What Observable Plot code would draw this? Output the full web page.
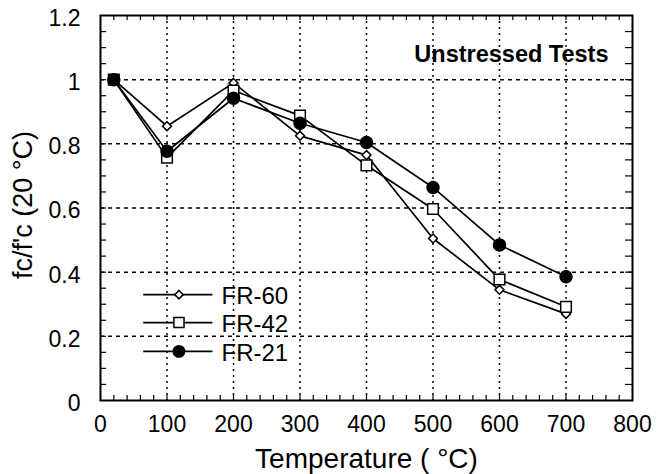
<!DOCTYPE html>
<html><head><meta charset="utf-8">
<script src="https://cdn.jsdelivr.net/npm/d3@7"></script>
<script src="https://cdn.jsdelivr.net/npm/@observablehq/plot@0.6"></script>
<style>body{margin:0;background:#fff} svg{display:block}</style>
</head><body><div id="chart"></div>
<script>
// ---- data ----
const temperatures = [20, 100, 200, 300, 400, 500, 600, 700];
const fr60 = [1.0, 0.855, 0.99, 0.825, 0.765, 0.505, 0.345, 0.27];
const fr42 = [1.0, 0.757, 0.966, 0.888, 0.733, 0.597, 0.377, 0.292];
const fr21 = [1.0, 0.777, 0.942, 0.864, 0.804, 0.664, 0.485, 0.386];
const seriesNames = ["FR-60", "FR-42", "FR-21"];
const xTicks = [0, 100, 200, 300, 400, 500, 600, 700, 800];
const yTicks = [0, 0.2, 0.4, 0.6, 0.8, 1.0, 1.2];
const yTickLabels = ["0", "0.2", "0.4", "0.6", "0.8", "1", "1.2"];
const xLabel = "Temperature ( °C)";
const yLabel = "fc/f'c (20 °C)";
const titleText = "Unstressed Tests";

// ---- layout / styles ----
const W = 657, H = 474;
const mL = 100, mR = 25, mT = 15, mB = 74;
const innerW = W - mL - mR, innerH = H - mT - mB;
const seriesValues = [fr60, fr42, fr21];
const seriesStyle = [
  {symbol: "diamond2", fill: "white", r: 4},
  {symbol: "square", fill: "white", r: 6},
  {symbol: "circle", fill: "black", r: 6}
];
const legendY = [0.33, 0.243, 0.153];
const legendLineX = [65, 169], legendMarkerX = 118, legendTextX = 182;

const rows = seriesNames.flatMap((s, i) => temperatures.map((t, j) => ({series: s, t, v: seriesValues[i][j]})));
const legendRows = seriesNames.map((s, i) => ({series: s, y: legendY[i]}));
const xMinor = d3.range(20, 800, 20);
const yMinor = d3.range(1, 24).map(k => k * 0.05);

const marks = [
  Plot.ruleX(xTicks.filter(d => d > 0 && d < 800), {x: d => d, stroke: "black", strokeWidth: 1.5, strokeDasharray: "2,4"}),
  Plot.ruleY(yTicks.filter(d => d > 0 && d < 1.2), {y: d => d, stroke: "black", strokeWidth: 1.5, strokeDasharray: "4,4"}),
  Plot.ruleX(xMinor, {x: d => d, insetTop: innerH - 5, stroke: "black", strokeWidth: 1.2}),
  Plot.ruleX(xMinor, {x: d => d, insetBottom: innerH - 5, stroke: "black", strokeWidth: 1.2}),
  Plot.ruleY(yMinor, {y: d => d, insetRight: innerW - 6, stroke: "black", strokeWidth: 1.2}),
  Plot.ruleY(yMinor, {y: d => d, insetLeft: innerW - 7, stroke: "black", strokeWidth: 1.2}),
  Plot.frame({stroke: "black", strokeWidth: 2}),
  Plot.line(rows, {x: "t", y: "v", z: "series", stroke: "black", strokeWidth: 1.7}),
  ...seriesNames.map((s, i) => Plot.dot(rows.filter(d => d.series === s), {
    x: "t", y: "v", symbol: () => seriesStyle[i].symbol, r: seriesStyle[i].r,
    fill: seriesStyle[i].fill, stroke: "black", strokeWidth: 1.5
  })),
  // legend
  Plot.ruleY(legendRows, {y: "y", x1: legendLineX[0], x2: legendLineX[1], stroke: "black", strokeWidth: 1.7}),
  ...seriesNames.map((s, i) => Plot.dot(legendRows.filter(d => d.series === s), {
    x: legendMarkerX, y: "y", symbol: () => seriesStyle[i].symbol, r: seriesStyle[i].r * 0.95,
    fill: seriesStyle[i].fill, stroke: "black", strokeWidth: 1.5
  })),
  Plot.text(legendRows, {x: legendTextX, y: "y", text: "series", textAnchor: "start", fontSize: 24, dy: 2, fill: "black"}),
  // axes
  Plot.axisX(xTicks, {tickSize: 0, tickPadding: 15, fontSize: 23, label: null}),
  Plot.axisY(yTicks, {tickSize: 0, tickPadding: 20, fontSize: 23, dy: 3, label: null,
    tickFormat: d => yTickLabels[yTicks.indexOf(d)]}),
  Plot.text([titleText], {frameAnchor: "top-right", dx: -24, dy: 46, lineAnchor: "bottom", textAnchor: "end", fontWeight: "bold", fontSize: 23.5, fill: "black"}),
  Plot.text([xLabel], {frameAnchor: "bottom", dy: 67, lineAnchor: "bottom", textAnchor: "middle", fontSize: 28, fill: "black"}),
  Plot.text([yLabel], {frameAnchor: "left", dx: -69, dy: -3, rotate: -90, lineAnchor: "bottom", textAnchor: "middle", fontSize: 27, fill: "black"})
];

const chart = Plot.plot({
  width: W, height: H,
  marginLeft: mL, marginRight: mR, marginTop: mT, marginBottom: mB,
  x: {domain: [0, 800]},
  y: {domain: [0, 1.2]},
  style: {fontFamily: "'Liberation Sans', Arial, sans-serif", color: "black", background: "white", overflow: "visible"},
  marks
});
document.getElementById("chart").appendChild(chart);
</script>
</body></html>
